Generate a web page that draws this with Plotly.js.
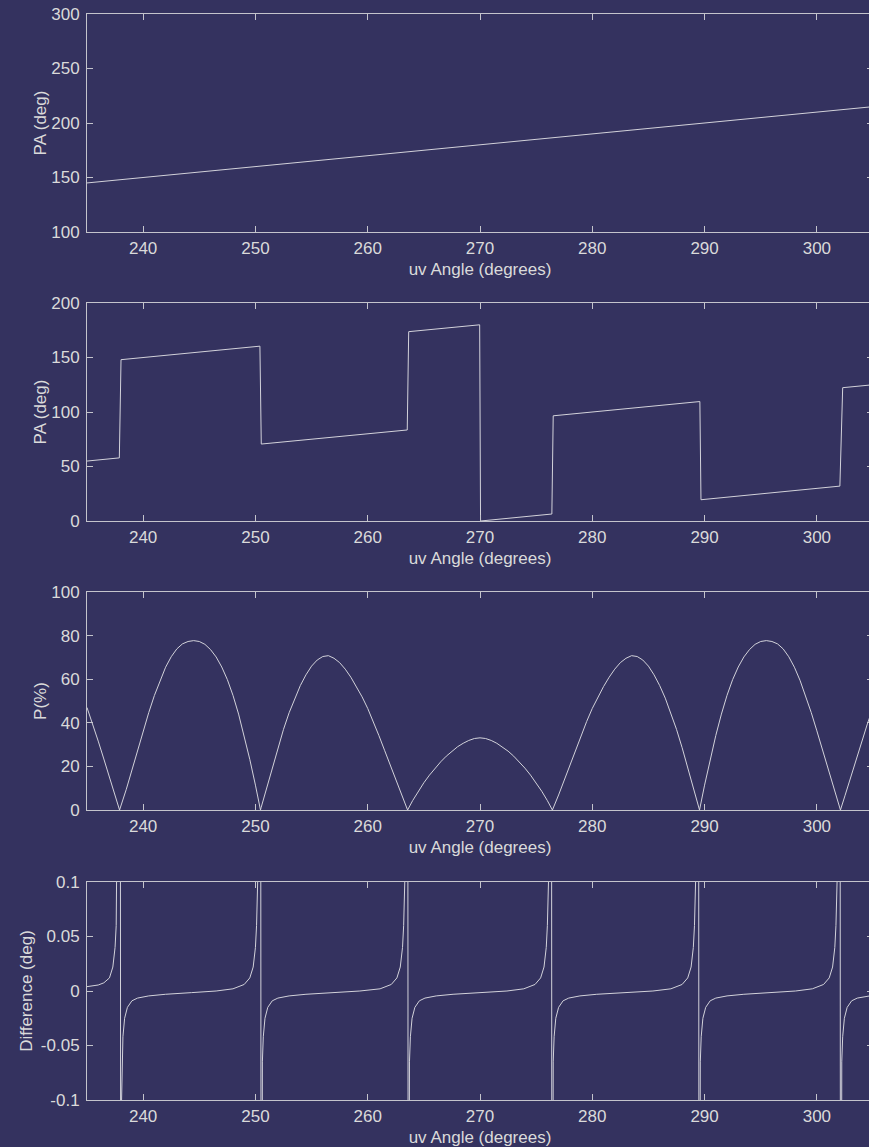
<!DOCTYPE html>
<html>
<head>
<meta charset="utf-8">
<script src="https://cdn.plot.ly/plotly-3.0.1.min.js"></script>
<style>
html,body{margin:0;padding:0;background:#34325f;overflow:hidden;width:869px;height:1147px;}
#chart{width:880px;height:1147px;}
</style>
</head>
<body>
<div id="chart"></div>
<script>
// ---- data ----
const xTickVals = [240, 250, 260, 270, 280, 290, 300];
const xTickText = ['240', '250', '260', '270', '280', '290', '300'];

// Panel 1: PA (deg)
const paX = [235, 250, 270, 290, 305];
const paY = [145, 160, 180, 200, 215];

// Panel 2: wrapped PA (deg)
const wrapX = [235, 237.88, 238.03, 250.4, 250.52, 263.52, 263.65, 269.97, 270.05, 276.4, 276.52, 289.58, 289.68, 302.05, 302.3, 305];
const wrapY = [55, 57.9, 148, 160.4, 70.6, 83.5, 173.7, 180, 0, 6.4, 96.5, 109.6, 19.5, 32, 122.3, 125];

// Panel 3: P (%)
const pX = [235,235.5,236,236.5,237,237.5,237.9,
  238.5,239,239.5,240,240.5,241,241.5,242,242.5,243,243.5,244,244.5,245,245.5,246,246.5,247,247.5,248,248.5,249,249.5,250,250.45,
  250.5,251,251.5,252,252.5,253,253.5,254,254.5,255,255.5,256,256.5,257,257.5,258,258.5,259,259.5,260,260.5,261,261.5,262,262.5,263,263.55,
  264,264.5,265,265.5,266,266.5,267,267.5,268,268.5,269,269.5,270,270.5,271,271.5,272,272.5,273,273.5,274,274.5,275,275.5,276,276.45,
  277,277.5,278,278.5,279,279.5,280,280.5,281,281.5,282,282.5,283,283.5,284,284.5,285,285.5,286,286.5,287,287.5,288,288.5,289,289.5,289.55,
  290,290.5,291,291.5,292,292.5,293,293.5,294,294.5,295,295.5,296,296.5,297,297.5,298,298.5,299,299.5,300,300.5,301,301.5,302.1,
  302.5,303,303.5,304,304.5,305];
const pY = [47,39.5,31.6,23.4,15,6.5,0,
  9.5,18.5,27.5,36.3,44.7,52.5,59.5,65.5,70.3,73.9,76.2,77.3,77.7,77.3,76,73.6,70.2,65.6,59.8,52.6,44,34.2,23.2,11.4,0,
  1,10.3,19.6,28.6,37,44.6,51.3,57.1,62,66,68.8,70.4,70.8,69.6,67.6,64.6,60.9,56.6,51.9,46.6,40.6,34.1,27.4,20.6,13.8,6.9,0,
  4.3,8.6,12.5,16,19.2,22.1,24.7,27,29,30.6,31.9,32.8,33.1,32.8,31.9,30.6,29,27,24.7,22.1,19.2,16,12.5,8.6,4.3,0,
  6.9,13.8,20.6,27.4,34.1,40.6,46.6,51.9,56.6,60.9,64.6,67.6,69.6,70.8,70.4,68.8,66,62,57.1,51.3,44.6,37,28.6,19.6,10.3,1,0,
  11.4,23.2,34.2,44,52.6,59.8,65.6,70.2,73.6,76,77.3,77.7,77.3,76.2,73.9,70.3,65.5,59.5,52.5,44.7,36.3,27.5,18.5,9.5,0,
  6.5,15,23.4,31.6,39.5,47];

// Panel 4: Difference (deg)
const dX = [235,235.5,236,236.5,237,237.3,237.5,237.6,237.7,237.8,237.95,
  238.02,238.08,238.12,238.2,238.35,238.6,239,239.5,240.5,242,244.3,246.5,248,249,249.5,249.8,250,250.1,250.2,250.3,250.45,
  250.52,250.58,250.62,250.7,250.85,251.1,251.5,252,253,254.5,257,259.3,261.1,262.1,262.6,262.9,263.1,263.2,263.3,263.4,263.55,
  263.62,263.68,263.72,263.8,263.95,264.2,264.6,265.1,266.1,267.6,270,272.4,273.9,274.9,275.4,275.7,275.9,276,276.1,276.2,276.35,
  276.42,276.48,276.52,276.6,276.75,277,277.4,277.9,278.9,280.4,283,285.4,287,288,288.5,288.8,289,289.1,289.2,289.3,289.45,
  289.52,289.58,289.62,289.7,289.85,290.1,290.5,291,292,293.5,295.8,298.1,299.6,300.6,301.1,301.4,301.6,301.7,301.8,301.9,302.05,
  302.12,302.18,302.22,302.3,302.45,302.7,303.1,303.6,304.6,305];
const dY = [0.004,0.0045,0.0055,0.0075,0.012,0.022,0.04,0.06,0.1,0.3,0.6,
  -0.6,-0.1,-0.065,-0.042,-0.025,-0.015,-0.009,-0.0065,-0.0045,-0.003,-0.0015,0,0.002,0.006,0.012,0.022,0.04,0.06,0.1,0.3,0.6,
  -0.6,-0.1,-0.065,-0.042,-0.025,-0.015,-0.009,-0.0065,-0.0045,-0.003,-0.0015,0,0.002,0.006,0.012,0.022,0.04,0.06,0.1,0.3,0.6,
  -0.6,-0.1,-0.065,-0.042,-0.025,-0.015,-0.009,-0.0065,-0.0045,-0.003,-0.0015,0,0.002,0.006,0.012,0.022,0.04,0.06,0.1,0.3,0.6,
  -0.6,-0.1,-0.065,-0.042,-0.025,-0.015,-0.009,-0.0065,-0.0045,-0.003,-0.0015,0,0.002,0.006,0.012,0.022,0.04,0.06,0.1,0.3,0.6,
  -0.6,-0.1,-0.065,-0.042,-0.025,-0.015,-0.009,-0.0065,-0.0045,-0.003,-0.0015,0,0.002,0.006,0.012,0.022,0.04,0.06,0.1,0.3,0.6,
  -0.6,-0.1,-0.065,-0.042,-0.025,-0.015,-0.009,-0.0065,-0.0045,-0.004];

const yTicks1 = [100, 150, 200, 250, 300];
const yTicks2 = [0, 50, 100, 150, 200];
const yTicks3 = [0, 20, 40, 60, 80, 100];
const yTicks4 = [-0.1, -0.05, 0, 0.05, 0.1];
const yTickText4 = ['-0.1', '-0.05', '0', '0.05', '0.1'];

const xTitle = 'uv Angle (degrees)';
const yTitles = ['PA (deg)', 'PA (deg)', 'P(%)', 'Difference (deg)'];

// ---- styling ----
const BG = '#34325f';
const AX = '#c4c4cc';
const LINE = '#d2d2da';
const TXT = '#dadada';
const FONT = {family: 'Liberation Sans, Arial, sans-serif', size: 17, color: TXT};

function xa(anchor) {
  return {
    anchor: anchor, domain: [0, 1], range: [235, 305],
    tickvals: xTickVals, ticktext: xTickText,
    ticks: 'inside', ticklen: 6, tickcolor: AX, tickwidth: 1,
    showline: true, linecolor: AX, linewidth: 1, mirror: 'ticks',
    showgrid: false, zeroline: false, tickfont: FONT, ticklabelstandoff: 1,
    title: {text: xTitle, font: FONT, standoff: 5}
  };
}
function ya(anchor, dom, range, vals, text, title, so) {
  const o = {
    anchor: anchor, domain: dom, range: range, tickvals: vals,
    ticks: 'inside', ticklen: 6, tickcolor: AX, tickwidth: 1,
    showline: true, linecolor: AX, linewidth: 1, mirror: 'ticks',
    showgrid: false, zeroline: false, tickfont: FONT, ticklabelstandoff: 3,
    title: {text: title, font: FONT, standoff: so}
  };
  if (text) o.ticktext = text;
  return o;
}

const H = 1147;
function dom(top, bot) { return [1 - bot / H, 1 - top / H]; }

const lineStyle = {color: LINE, width: 1};
const traces = [
  {x: paX, y: paY, xaxis: 'x', yaxis: 'y', mode: 'lines', line: lineStyle},
  {x: wrapX, y: wrapY, xaxis: 'x2', yaxis: 'y2', mode: 'lines', line: lineStyle},
  {x: pX, y: pY, xaxis: 'x3', yaxis: 'y3', mode: 'lines', line: lineStyle},
  {x: dX, y: dY, xaxis: 'x4', yaxis: 'y4', mode: 'lines', line: lineStyle}
];

const layout = {
  width: 880, height: H,
  margin: {l: 87, r: 7, t: 0, b: 0},
  paper_bgcolor: BG, plot_bgcolor: BG,
  showlegend: false,
  font: FONT,
  xaxis: xa('y'), xaxis2: xa('y2'), xaxis3: xa('y3'), xaxis4: xa('y4'),
  yaxis: ya('x', dom(14, 232), [100, 300], yTicks1, null, yTitles[0], 0),
  yaxis2: ya('x2', dom(303, 521), [0, 200], yTicks2, null, yTitles[1], 0),
  yaxis3: ya('x3', dom(592, 810), [0, 100], yTicks3, null, yTitles[2], 0),
  yaxis4: ya('x4', dom(882, 1100), [-0.1, 0.1], yTicks4, yTickText4, yTitles[3], 3)
};

Plotly.newPlot('chart', traces, layout, {staticPlot: true, displayModeBar: false});
</script>
</body>
</html>
